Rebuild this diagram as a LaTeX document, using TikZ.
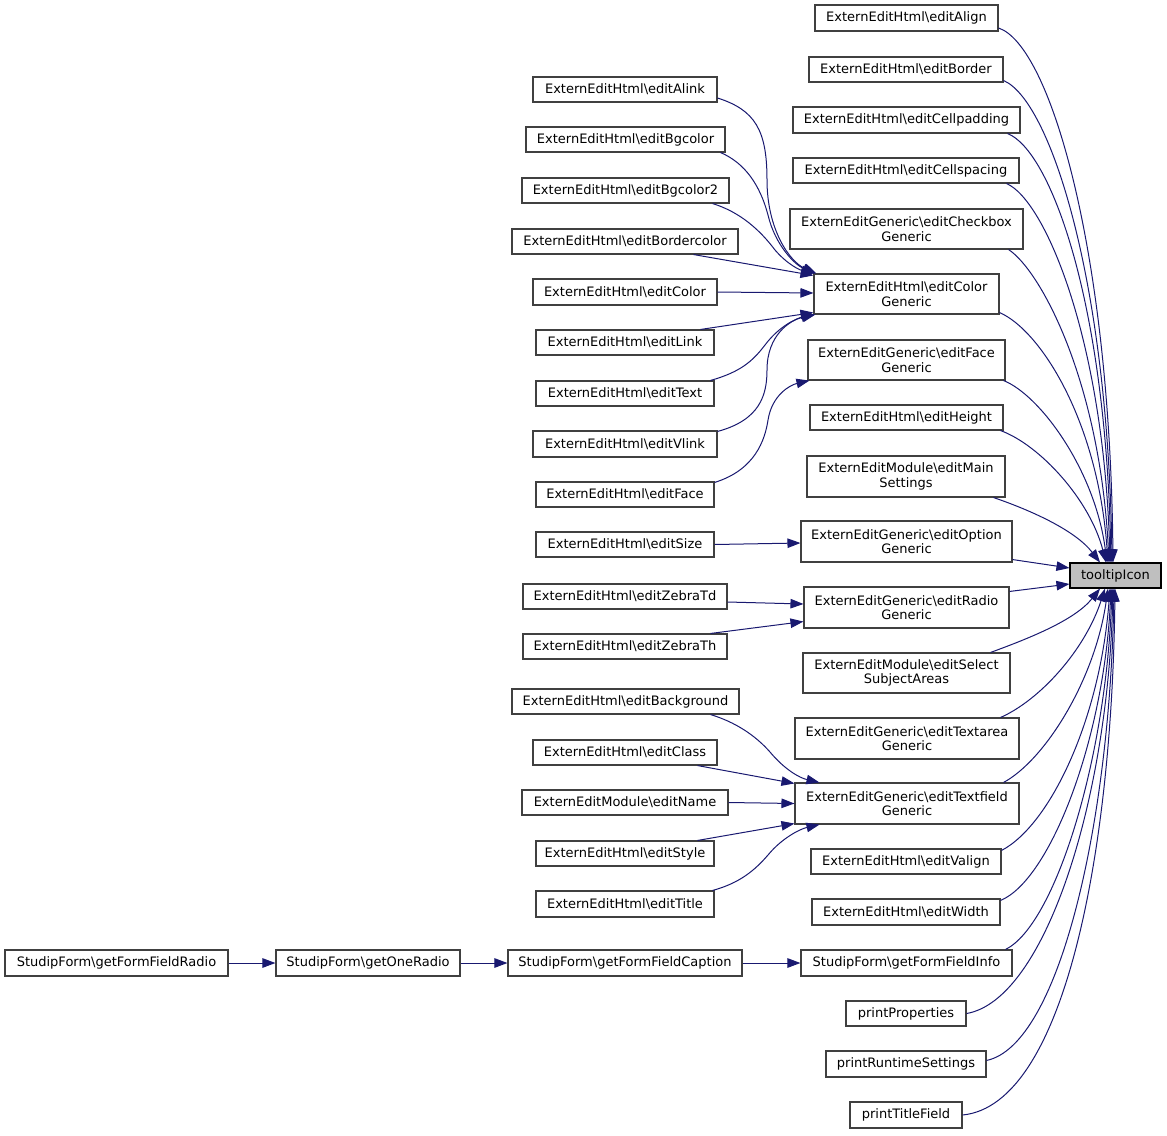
\documentclass[tikz,border=0pt]{standalone}
\usepackage{fontspec}
\setmainfont{DejaVu Sans}
\usetikzlibrary{arrows.meta}
\definecolor{edgeblue}{HTML}{191970}
\definecolor{boxgray}{HTML}{404040}
\definecolor{hilite}{HTML}{BFBFBF}
\newcommand{\bsl}{\textbackslash}
\begin{document}
\begin{tikzpicture}[x=1pt,y=-1pt,
  box/.style={draw=boxgray, line width=1.1pt, fill=white, inner sep=0pt, align=center, font=\fontsize{13}{14.5}\selectfont},
  focus/.style={box, draw=black, fill=hilite},
  call/.style={draw=edgeblue, line width=1pt, -{Triangle[length=13pt,width=9.5pt]}}]
\useasboundingbox (0,0) rectangle (1167,1135);

% focus node
\node[focus, minimum width=91pt, minimum height=25pt] (ti) at (1115.5,575.5) {tooltipIcon};

% right column
\node[box, minimum width=183pt, minimum height=26pt] (rA) at (906.5,18) {ExternEditHtml\bsl editAlign};
\node[box, minimum width=194pt, minimum height=25pt] (rB) at (906,69.5) {ExternEditHtml\bsl editBorder};
\node[box, minimum width=227pt, minimum height=26pt] (rCp) at (906.5,120) {ExternEditHtml\bsl editCellpadding};
\node[box, minimum width=226pt, minimum height=25pt] (rCs) at (906,170.5) {ExternEditHtml\bsl editCellspacing};
\node[box, minimum width=233pt, minimum height=40pt] (rCb) at (906.5,229) {ExternEditGeneric\bsl editCheckbox\\Generic};
\node[box, minimum width=185pt, minimum height=40pt] (rCo) at (906.5,294) {ExternEditHtml\bsl editColor\\Generic};
\node[box, minimum width=197pt, minimum height=40pt] (rFa) at (906.5,360) {ExternEditGeneric\bsl editFace\\Generic};
\node[box, minimum width=193pt, minimum height=25pt] (rHe) at (906.5,417.5) {ExternEditHtml\bsl editHeight};
\node[box, minimum width=198pt, minimum height=41pt] (rMa) at (906,476.5) {ExternEditModule\bsl editMain\\Settings};
\node[box, minimum width=211pt, minimum height=41pt] (rOp) at (906.5,541.5) {ExternEditGeneric\bsl editOption\\Generic};
\node[box, minimum width=205pt, minimum height=41pt] (rRa) at (906.5,607.5) {ExternEditGeneric\bsl editRadio\\Generic};
\node[box, minimum width=207pt, minimum height=40pt] (rSe) at (906.5,673) {ExternEditModule\bsl editSelect\\SubjectAreas};
\node[box, minimum width=224pt, minimum height=41pt] (rTa) at (907,738.5) {ExternEditGeneric\bsl editTextarea\\Generic};
\node[box, minimum width=224pt, minimum height=41pt] (rTf) at (907,803.5) {ExternEditGeneric\bsl editTextfield\\Generic};
\node[box, minimum width=190pt, minimum height=25pt] (rVa) at (906,861.5) {ExternEditHtml\bsl editValign};
\node[box, minimum width=188pt, minimum height=26pt] (rWi) at (906,912) {ExternEditHtml\bsl editWidth};
\node[box, minimum width=211pt, minimum height=26pt] (rFi) at (906.5,963) {StudipForm\bsl getFormFieldInfo};
\node[box, minimum width=120pt, minimum height=25pt] (pP) at (906,1013.5) {printProperties};
\node[box, minimum width=160pt, minimum height=26pt] (pR) at (906,1064) {printRuntimeSettings};
\node[box, minimum width=112pt, minimum height=26pt] (pT) at (906,1115) {printTitleField};

% middle column
\node[box, minimum width=184pt, minimum height=25pt] (mAl) at (625,89.5) {ExternEditHtml\bsl editAlink};
\node[box, minimum width=199pt, minimum height=25pt] (mBg) at (625.5,139.5) {ExternEditHtml\bsl editBgcolor};
\node[box, minimum width=207pt, minimum height=25pt] (mBg2) at (625.5,190.5) {ExternEditHtml\bsl editBgcolor2};
\node[box, minimum width=226pt, minimum height=25pt] (mBc) at (625,241.5) {ExternEditHtml\bsl editBordercolor};
\node[box, minimum width=184pt, minimum height=26pt] (mCo) at (625,292) {ExternEditHtml\bsl editColor};
\node[box, minimum width=178pt, minimum height=25pt] (mLi) at (625,342.5) {ExternEditHtml\bsl editLink};
\node[box, minimum width=178pt, minimum height=25pt] (mTe) at (625,393.5) {ExternEditHtml\bsl editText};
\node[box, minimum width=184pt, minimum height=26pt] (mVl) at (625,444) {ExternEditHtml\bsl editVlink};
\node[box, minimum width=178pt, minimum height=25pt] (mFa) at (625,494.5) {ExternEditHtml\bsl editFace};
\node[box, minimum width=178pt, minimum height=25pt] (mSi) at (625,544.5) {ExternEditHtml\bsl editSize};
\node[box, minimum width=204pt, minimum height=25pt] (mZd) at (625,596.5) {ExternEditHtml\bsl editZebraTd};
\node[box, minimum width=204pt, minimum height=25pt] (mZh) at (625,646.5) {ExternEditHtml\bsl editZebraTh};
\node[box, minimum width=227pt, minimum height=25pt] (mBk) at (625.5,701.5) {ExternEditHtml\bsl editBackground};
\node[box, minimum width=184pt, minimum height=25pt] (mCl) at (625,752.5) {ExternEditHtml\bsl editClass};
\node[box, minimum width=206pt, minimum height=25pt] (mNa) at (625,802.5) {ExternEditModule\bsl editName};
\node[box, minimum width=178pt, minimum height=25pt] (mSt) at (625,853.5) {ExternEditHtml\bsl editStyle};
\node[box, minimum width=178pt, minimum height=26pt] (mTi) at (625,904) {ExternEditHtml\bsl editTitle};
\node[box, minimum width=234pt, minimum height=26pt] (mCap) at (625,963) {StudipForm\bsl getFormFieldCaption};

% left nodes
\node[box, minimum width=184pt, minimum height=26pt] (gOR) at (368,963) {StudipForm\bsl getOneRadio};
\node[box, minimum width=223pt, minimum height=26pt] (gFR) at (116.5,963) {StudipForm\bsl getFormFieldRadio};

% ---- edges into tooltipIcon (top)
\draw[call] ([yshift=-10pt]rA.east) .. controls (1050,45) and (1110,250) .. ([xshift=-2.5pt]ti.north);
\draw[call] ([yshift=2pt]rB.south east) .. controls (1050,100) and (1108,280) .. ([xshift=-3.5pt]ti.north);
\draw[call] ([xshift=-13pt]rCp.south east) .. controls (1050,150) and (1106,300) .. ([xshift=-4.5pt]ti.north);
\draw[call] ([xshift=-13pt]rCs.south east) .. controls (1045,200) and (1104,340) .. ([xshift=-5.5pt]ti.north);
\draw[call] ([xshift=-15pt]rCb.south east) .. controls (1040,270) and (1100,380) .. ([xshift=-6.5pt]ti.north);
\draw[call] ([yshift=2pt]rCo.south east) .. controls (1040,330) and (1098,420) .. ([xshift=-7.5pt]ti.north);
\draw[call] ([xshift=-2pt]rFa.south east) .. controls (1040,395) and (1095,470) .. ([xshift=-8.5pt]ti.north);
\draw[call] ([xshift=-3pt]rHe.south east) .. controls (1040,445) and (1090,500) .. ([xshift=-9.5pt]ti.north);
\draw[call] ([xshift=-12pt]rMa.south east) .. controls (1030,510) and (1075,530) .. ([xshift=-15.5pt]ti.north);
% side
\draw[call] ([yshift=3pt]rOp.south east) -- ([yshift=7.5pt]ti.west);
\draw[call] ([yshift=-5pt]rRa.north east) -- ([yshift=-8.5pt]ti.west);
% bottom
\draw[call] ([xshift=-20pt]rSe.north east) .. controls (1030,638) and (1075,620) .. ([xshift=-15.5pt]ti.south);
\draw[call] ([xshift=-19pt]rTa.north east) .. controls (1040,700) and (1085,650) .. ([xshift=-10.5pt]ti.south);
\draw[call] ([xshift=-16pt]rTf.north east) .. controls (1045,760) and (1095,680) .. ([xshift=-7.5pt]ti.south);
\draw[call] ([yshift=-2pt]rVa.north east) .. controls (1050,825) and (1100,720) .. ([xshift=-5.5pt]ti.south);
\draw[call] ([yshift=-2pt]rWi.north east) .. controls (1050,880) and (1104,740) .. ([xshift=-4.5pt]ti.south);
\draw[call] ([xshift=-7pt]rFi.north east) .. controls (1055,925) and (1106,760) .. ([xshift=-3.5pt]ti.south);
\draw[call] (pP.east) .. controls (1045,1000) and (1108,800) .. ([xshift=-2.5pt]ti.south);
\draw[call] ([yshift=-10pt]pR.north east) .. controls (1060,1045) and (1110,820) .. ([xshift=-1.5pt]ti.south);
\draw[call] (pT.east) .. controls (1065,1105) and (1112,850) .. ([xshift=-0.5pt]ti.south);

% ---- middle column into editColor Generic
\draw[call] ([yshift=-8.5pt]mAl.east) .. controls (755,110) and (767,130) .. (767,180) .. controls (767,230) and (790,262) .. ([xshift=3pt]rCo.north west);
\draw[call] ([xshift=-5pt]mBg.south east) .. controls (745,163) and (760,185) .. (768,215) .. controls (775,245) and (795,265) .. ([xshift=2pt]rCo.north west);
\draw[call] ([xshift=-17pt]mBg2.south east) .. controls (740,212) and (760,230) .. (775,250) .. controls (788,265) and (800,270) .. ([xshift=1pt]rCo.north west);
\draw[call] ([xshift=-45pt]mBc.south east) -- ([yshift=-2pt]rCo.north west);
\draw[call] (mCo.east) -- ([yshift=1pt]rCo.west);
\draw[call] ([xshift=-14pt]mLi.north east) -- ([yshift=2pt]rCo.south west);
\draw[call] ([xshift=-4pt]mTe.north east) .. controls (740,372) and (752,362) .. (765,345) .. controls (780,325) and (798,318) .. ([xshift=1pt]rCo.south west);
\draw[call] ([yshift=-1pt]mVl.north east) .. controls (760,420) and (767,395) .. (767,370) .. controls (767,335) and (790,320) .. ([xshift=2pt]rCo.south west);
% editFace
\draw[call] ([yshift=-1pt]mFa.north east) .. controls (755,470) and (765,440) .. (768,420) .. controls (772,395) and (790,385) .. ([xshift=2pt]rFa.south west);
% editSize
\draw[call] (mSi.east) -- ([yshift=-1.5pt]rOp.west);
% zebra
\draw[call] ([yshift=-5.5pt]mZd.east) -- ([yshift=3.5pt]rRa.west);
\draw[call] ([xshift=-17pt]mZh.north east) -- ([yshift=7pt]rRa.south west);
% textfield
\draw[call] ([xshift=-29pt]mBk.south east) .. controls (735,722) and (755,735) .. (770,752) .. controls (785,770) and (800,778) .. ([xshift=25pt]rTf.north west);
\draw[call] ([xshift=-20pt]mCl.south east) -- ([yshift=-1pt]rTf.north west);
\draw[call] (mNa.east) -- (rTf.west);
\draw[call] ([xshift=-17pt]mSt.north east) -- ([yshift=1pt]rTf.south west);
\draw[call] ([xshift=-2pt]mTi.north east) .. controls (740,883) and (755,870) .. (768,855) .. controls (782,838) and (800,829) .. ([xshift=25pt]rTf.south west);

% chain
\draw[call] (gFR.east) -- (gOR.west);
\draw[call] (gOR.east) -- (mCap.west);
\draw[call] (mCap.east) -- (rFi.west);
\end{tikzpicture}
\end{document}
